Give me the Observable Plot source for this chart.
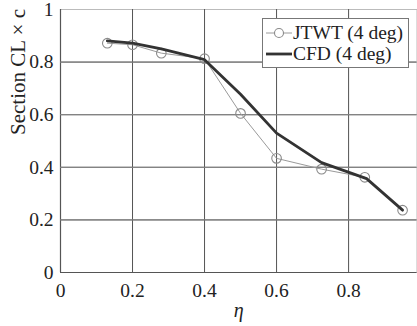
<!DOCTYPE html>
<html>
<head>
<meta charset="utf-8">
<script src="https://cdn.jsdelivr.net/npm/d3@7"></script>
<script src="https://cdn.jsdelivr.net/npm/@observablehq/plot@0.6"></script>
<style>
  html, body { margin: 0; padding: 0; background: #fff; }
  #wrap { position: relative; width: 417px; height: 326px; overflow: hidden; }
  #legend { position: absolute; left: 262px; top: 18px; width: 147px; height: 50px; box-sizing: border-box;
    border: 1px solid #777; background: #fff; font-family: "Liberation Serif", serif; font-size: 19.5px; color: #222; }
  #legend .row { position: absolute; left: 2px; height: 22px; display: flex; align-items: center; }
  #legend svg { display: block; }
  #chart svg, #chart svg text { font-family: "Liberation Serif", serif !important; }
</style>
</head>
<body>
<div id="wrap"><div id="chart"></div><div id="legend"></div></div>
<script>
const etaJTWT = [0.13, 0.2, 0.28, 0.4, 0.5, 0.6, 0.725, 0.845, 0.95];
const clJTWT  = [0.872, 0.866, 0.834, 0.813, 0.605, 0.434, 0.393, 0.362, 0.237];
const etaCFD  = [0.13, 0.2, 0.28, 0.4, 0.5, 0.6, 0.725, 0.85, 0.95];
const clCFD   = [0.881, 0.872, 0.85, 0.809, 0.678, 0.53, 0.418, 0.357, 0.237];
const xTicks = [0, 0.2, 0.4, 0.6, 0.8];
const yTicks = [0, 0.2, 0.4, 0.6, 0.8, 1];
const seriesNames = ["JTWT (4 deg)", "CFD (4 deg)"];
const yLabel = "Section CL \u00d7 c";
const xLabel = "\u03b7";

const jtwt = etaJTWT.map((x, i) => ({x, y: clJTWT[i]}));
const cfd = etaCFD.map((x, i) => ({x, y: clCFD[i]}));
const gridX = xTicks.filter(d => d > 0);
const gridY = yTicks.filter(d => d > 0 && d < 1);

const chart = Plot.plot({
  width: 417,
  height: 326,
  marginLeft: 60,
  marginRight: 0.5,
  marginTop: 9,
  marginBottom: 54,
  style: {fontFamily: "'Liberation Serif', serif", fontSize: "19.5px", color: "#222", background: "#fff"},
  x: {domain: [0, 0.99]},
  y: {domain: [0, 1]},
  marks: [
    Plot.ruleX(gridX, {stroke: "#e6e6e6", strokeWidth: 1}),
    Plot.ruleY(gridY, {stroke: "#e6e6e6", strokeWidth: 1}),
    Plot.frame({stroke: "#bbb", strokeWidth: 1}),
    Plot.ruleX([0], {stroke: "#555", strokeWidth: 1.2}),
    Plot.ruleY([0], {stroke: "#555", strokeWidth: 1.2}),
    Plot.tickX(gridX, {y1: 0, y2: 0.012, stroke: "#555"}),
    Plot.tickY(gridY, {x1: 0, x2: 0.012, stroke: "#555"}),
    Plot.tickY(gridY, {x1: 0.978, x2: 0.99, stroke: "#888"}),
    Plot.axisX(xTicks, {tickSize: 0, tickPadding: 11, tickFormat: d => d === 0 ? "0" : String(d), label: null, fill: "#222"}),
    Plot.axisY(yTicks, {tickSize: 0, tickPadding: 7, tickFormat: d => String(d), label: null, fill: "#222"}),
    Plot.text([yLabel], {frameAnchor: "left", rotate: -90, dx: -42, dy: -6, fontSize: 21, fill: "#222"}),
    Plot.text([xLabel], {frameAnchor: "bottom", dy: 44, fontSize: 20, fontStyle: "italic", fill: "#222"}),
    Plot.line(jtwt, {x: "x", y: "y", stroke: "#9a9a9a", strokeWidth: 1}),
    Plot.dot(jtwt, {x: "x", y: "y", r: 4.8, stroke: "#8a8a8a", strokeWidth: 1.1, fill: "none"}),
    Plot.line(cfd, {x: "x", y: "y", stroke: "#333", strokeWidth: 2.8})
  ]
});
document.getElementById("chart").appendChild(chart);

const leg = document.getElementById("legend");
leg.innerHTML =
  `<div class="row" style="top:3px"><svg width="28" height="22"><line x1="1" y1="11" x2="27" y2="11" stroke="#9a9a9a" stroke-width="1"/><circle cx="14" cy="11" r="4.5" fill="#fff" stroke="#8a8a8a" stroke-width="1.1"/></svg><span>${seriesNames[0]}</span></div>` +
  `<div class="row" style="top:24px"><svg width="28" height="22"><line x1="1" y1="11" x2="27" y2="11" stroke="#333" stroke-width="2.8"/></svg><span>${seriesNames[1]}</span></div>`;
</script>
</body>
</html>
